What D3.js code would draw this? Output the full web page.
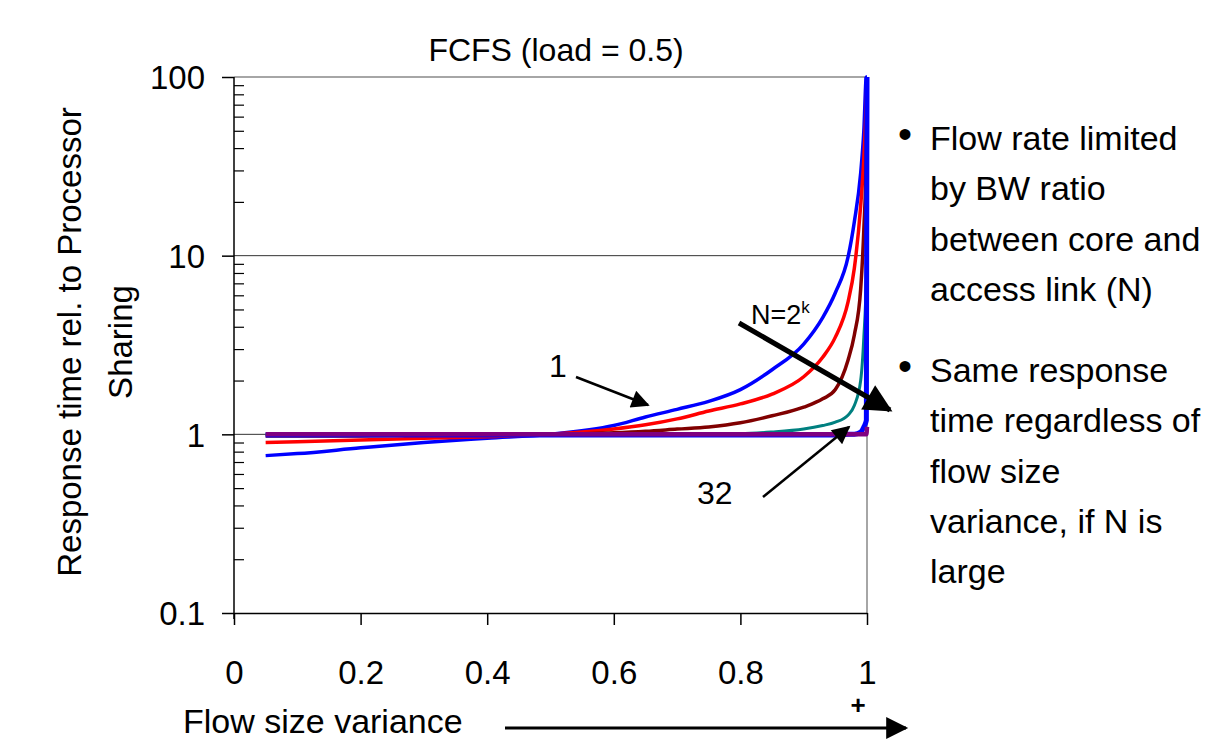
<!DOCTYPE html>
<html>
<head>
<meta charset="utf-8">
<script src="https://cdn.jsdelivr.net/npm/d3@7"></script>
<style>
  body { margin: 0; background: #fff; }
  text { font-family: "Liberation Sans", Arial, sans-serif; fill: #000; }
</style>
</head>
<body>
<div id="chart"></div>
<script>
// x positions (flow size variance) shared by all series
var xValues = [0.05, 0.1, 0.2, 0.3, 0.4, 0.5, 0.6, 0.65, 0.7, 0.75, 0.8, 0.85, 0.9, 0.93, 0.95, 0.97, 0.98, 0.99, 0.995, 0.999, 1.0];

// response time relative to PS, one array per N
var n1 =  [0.76, 0.78, 0.84, 0.90, 0.95, 1.0, 1.12, 1.25, 1.38, 1.53, 1.78, 2.3, 3.2, 4.5, 6.2, 9.8, 15.5, 29, 50, 100, 100];
var n2 =  [0.90, 0.91, 0.93, 0.95, 0.97, 1.0, 1.07, 1.13, 1.22, 1.35, 1.48, 1.68, 2.1, 2.7, 3.5, 5.5, 8.5, 19, 35, 75, 100];
var n4 =  [0.98, 0.98, 0.98, 0.99, 0.99, 1.0, 1.02, 1.04, 1.07, 1.10, 1.16, 1.27, 1.42, 1.58, 1.78, 2.6, 3.6, 6.5, 14, 40, 100];
var n8 =  [1.0, 1.0, 1.0, 1.0, 1.0, 1.0, 1.0, 1.0, 1.0, 1.01, 1.01, 1.03, 1.07, 1.12, 1.17, 1.28, 1.45, 2.0, 3.5, 8, 100];
var n16 = [0.99, 0.99, 0.99, 0.99, 0.99, 0.99, 0.99, 0.99, 0.99, 0.99, 0.99, 0.99, 0.99, 0.99, 0.99, 1.0, 1.0, 1.03, 1.1, 1.2, 100];
var n32 = [1.0, 1.0, 1.0, 1.0, 1.0, 1.0, 1.0, 1.0, 1.0, 1.0, 1.0, 1.0, 1.0, 1.0, 1.0, 1.0, 1.0, 1.0, 1.0, 1.0, 1.1];

var seriesNames = ["1", "2", "4", "8", "16", "32"];
var seriesValues = [n1, n2, n4, n8, n16, n32];
var seriesColors = ["#0000ff", "#ff0000", "#800000", "#008080", "#0000ff", "#800080"];
var seriesWidths = [3.5, 3.5, 3.5, 3, 5, 4.5];

var xTicks = [0, 0.2, 0.4, 0.6, 0.8, 1];
var yTicks = [0.1, 1, 10, 100];

var bulletText1 = ["Flow rate limited", "by BW ratio", "between core and", "access link (N)"];
var bulletText2 = ["Same response", "time regardless of", "flow size", "variance, if N is", "large"];

var svgWidth = 1212;
var svgHeight = 739;
var margin = { top: 77, left: 234, right: 345, bottom: 126 };
var width = svgWidth - margin.left - margin.right;
var height = svgHeight - margin.top - margin.bottom;

var svg = d3.select("#chart").append("svg")
  .attr("width", svgWidth)
  .attr("height", svgHeight);

var defs = svg.append("defs");
defs.append("clipPath").attr("id", "plotclip")
  .append("rect").attr("x", -3).attr("y", -3).attr("width", width + 6).attr("height", height + 6);

// arrowhead markers
function addMarker(id, w, h) {
  defs.append("marker")
    .attr("id", id)
    .attr("viewBox", "0 0 10 10")
    .attr("refX", 9).attr("refY", 5)
    .attr("markerUnits", "userSpaceOnUse")
    .attr("markerWidth", w).attr("markerHeight", h)
    .attr("orient", "auto")
    .append("path").attr("d", "M0,0 L10,5 L0,10 Z").attr("fill", "#000");
}
addMarker("bigHead", 32, 28);
addMarker("smallHead", 22, 18);
addMarker("axisHead", 26, 22);

var chartGroup = svg.append("g")
  .attr("transform", `translate(${margin.left}, ${margin.top})`);

var xScale = d3.scaleLinear().domain([0, 1]).range([0, width]);
var yScale = d3.scaleLog().domain([0.1, 100]).range([height, 0]);

// gridlines and border
chartGroup.selectAll(".grid")
  .data([1, 10])
  .enter().append("line")
  .attr("x1", 0).attr("x2", width)
  .attr("y1", d => yScale(d)).attr("y2", d => yScale(d))
  .attr("stroke", "#333").attr("stroke-width", 1);

chartGroup.append("line")
  .attr("x1", 0).attr("x2", width).attr("y1", 0).attr("y2", 0)
  .attr("stroke", "#888").attr("stroke-width", 1.5);
chartGroup.append("line")
  .attr("x1", width).attr("x2", width).attr("y1", 0).attr("y2", height)
  .attr("stroke", "#888").attr("stroke-width", 1.5);

// x axis
var xAxis = d3.axisBottom(xScale).tickValues(xTicks).tickSize(12).tickSizeOuter(0)
  .tickFormat(d3.format("~g"));
var xg = chartGroup.append("g")
  .attr("transform", `translate(0, ${height})`)
  .call(xAxis);
xg.select(".domain").attr("stroke", "#000").attr("stroke-width", 1.5);
xg.selectAll(".tick line").attr("stroke", "#000").attr("stroke-width", 1.5);
xg.selectAll("text")
  .attr("y", 71).attr("dy", null)
  .style("font-size", "33px").style("font-family", "Liberation Sans, Arial, sans-serif");

// y axis, major ticks outside
var yAxis = d3.axisLeft(yScale).tickValues(yTicks).tickSize(12).tickSizeOuter(0)
  .tickPadding(17).tickFormat(d3.format("~g"));
var yg = chartGroup.append("g").call(yAxis);
yg.select(".domain").remove();
yg.selectAll(".tick line").attr("stroke", "#000").attr("stroke-width", 1.5);
yg.selectAll("text")
  .attr("dy", "0.36em")
  .style("font-size", "33px").style("font-family", "Liberation Sans, Arial, sans-serif");

chartGroup.append("line")
  .attr("x1", 0).attr("x2", 0).attr("y1", 0).attr("y2", height + 6)
  .attr("stroke", "#000").attr("stroke-width", 1.5);

// y minor ticks inside
var minorTicks = [];
[0.1, 1, 10].forEach(function (base) {
  for (var i = 2; i <= 9; i++) minorTicks.push(base * i);
});
var yMinor = d3.axisRight(yScale).tickValues(minorTicks).tickSize(10).tickFormat("");
var ym = chartGroup.append("g").call(yMinor);
ym.select(".domain").remove();
ym.selectAll(".tick line").attr("stroke", "#000").attr("stroke-width", 1.2);

// series lines
var line = d3.line()
  .x(d => xScale(d[0]))
  .y(d => yScale(d[1]))
  .curve(d3.curveMonotoneX);

var linesGroup = chartGroup.append("g").attr("clip-path", "url(#plotclip)");
linesGroup.selectAll("path")
  .data(seriesValues)
  .enter()
  .append("path")
  .attr("d", vals => line(xValues.map((x, i) => [x, vals[i]])))
  .attr("fill", "none")
  .attr("stroke", (d, i) => seriesColors[i])
  .attr("stroke-width", (d, i) => seriesWidths[i])
  .attr("stroke-linejoin", "round");

// title
svg.append("text")
  .attr("x", 556).attr("y", 61)
  .attr("text-anchor", "middle")
  .style("font-size", "32px")
  .text("FCFS (load = 0.5)");

// y axis title
svg.append("text")
  .attr("transform", "translate(81, 342) rotate(-90)")
  .attr("text-anchor", "middle")
  .style("font-size", "33px")
  .text("Response time rel. to Processor");
svg.append("text")
  .attr("transform", "translate(132, 342) rotate(-90)")
  .attr("text-anchor", "middle")
  .style("font-size", "33px")
  .text("Sharing");

// x axis title and arrow
svg.append("text")
  .attr("x", 183).attr("y", 733)
  .style("font-size", "34px")
  .text("Flow size variance");
svg.append("line")
  .attr("x1", 505).attr("y1", 728).attr("x2", 906).attr("y2", 728)
  .attr("stroke", "#000").attr("stroke-width", 3)
  .attr("marker-end", "url(#axisHead)");
svg.append("text")
  .attr("x", 858).attr("y", 714)
  .attr("text-anchor", "middle")
  .style("font-size", "26px").style("font-weight", "bold")
  .text("+");

// annotations
var nLabel = svg.append("text")
  .attr("x", 751).attr("y", 324)
  .style("font-size", "27px");
nLabel.append("tspan").text("N=2");
nLabel.append("tspan").attr("dy", -11).style("font-size", "17px").text("k");

svg.append("line")
  .attr("x1", 739).attr("y1", 323).attr("x2", 890).attr("y2", 410)
  .attr("stroke", "#000").attr("stroke-width", 5)
  .attr("marker-end", "url(#bigHead)");

svg.append("text")
  .attr("x", 549).attr("y", 377)
  .style("font-size", "32px")
  .text("1");
svg.append("line")
  .attr("x1", 576).attr("y1", 377).attr("x2", 648).attr("y2", 405)
  .attr("stroke", "#000").attr("stroke-width", 2.5)
  .attr("marker-end", "url(#smallHead)");

svg.append("text")
  .attr("x", 697).attr("y", 504)
  .style("font-size", "32px")
  .text("32");
svg.append("line")
  .attr("x1", 763).attr("y1", 497).attr("x2", 849).attr("y2", 427)
  .attr("stroke", "#000").attr("stroke-width", 2.5)
  .attr("marker-end", "url(#smallHead)");

// bullet text on the right
function bullet(lines, y0) {
  svg.append("text")
    .attr("x", 898).attr("y", y0 - 2)
    .style("font-size", "40px")
    .text("\u2022");
  svg.selectAll(null)
    .data(lines)
    .enter()
    .append("text")
    .attr("x", 930)
    .attr("y", (d, i) => y0 + i * 50.3)
    .style("font-size", "34px")
    .text(d => d);
}
bullet(bulletText1, 150);
bullet(bulletText2, 382);
</script>
</body>
</html>
